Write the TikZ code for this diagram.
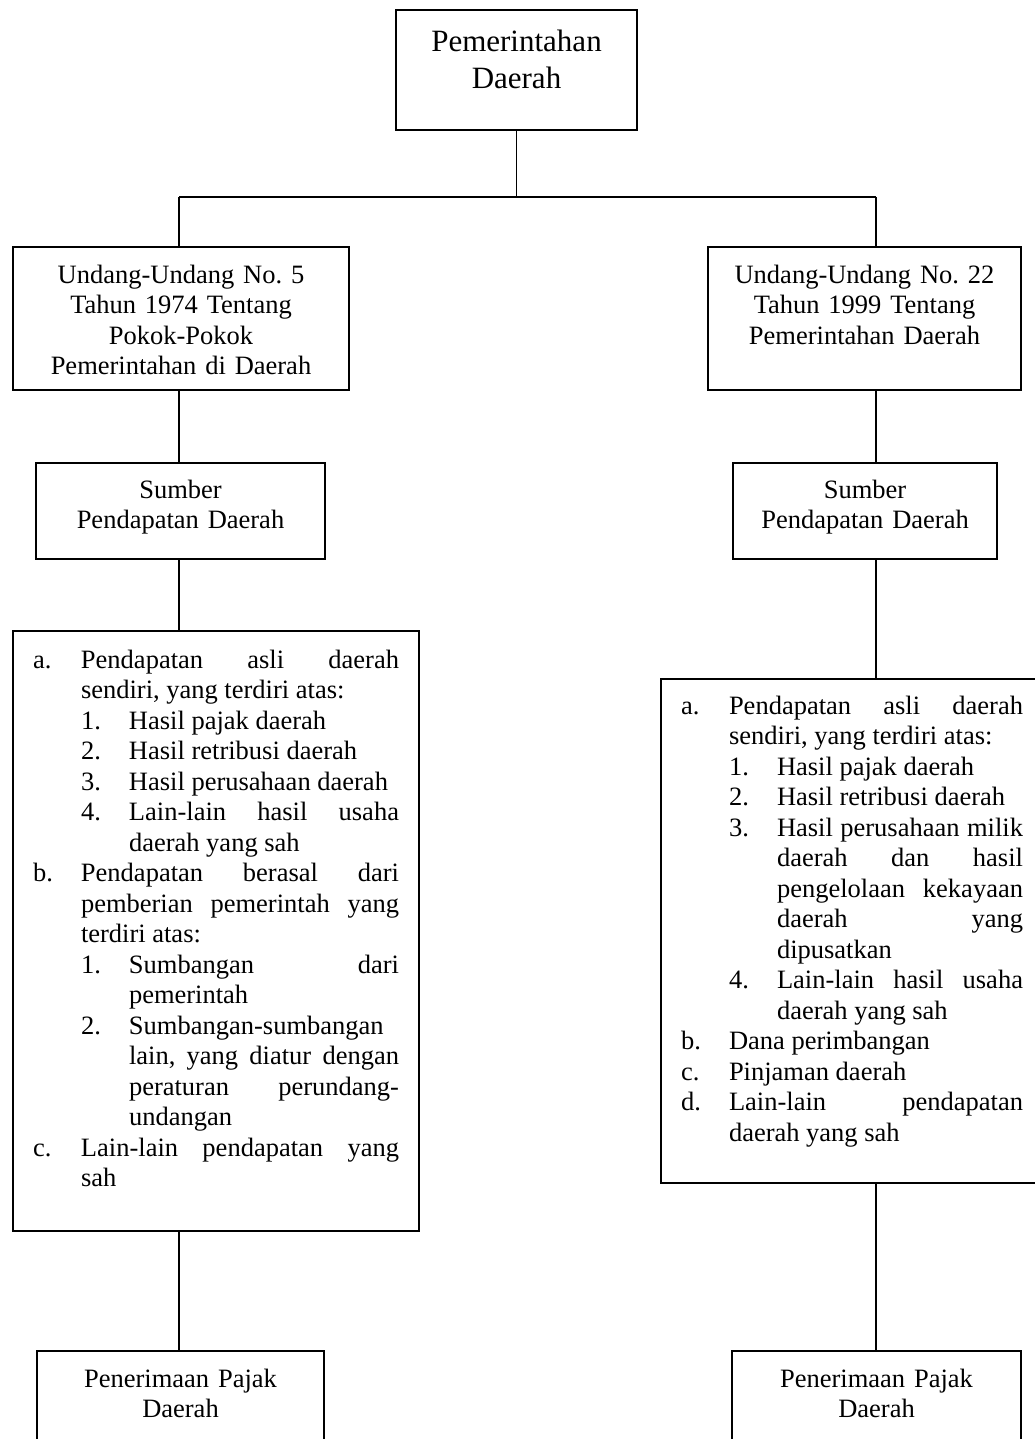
\documentclass[tikz,border=0pt]{standalone}
\usepackage{fontspec}
\setmainfont{Liberation Serif}
\frenchspacing
\tolerance=10000
\hyphenpenalty=10000
\exhyphenpenalty=10000
\newcommand{\itema}[2]{\leftskip=48pt\noindent\llap{\makebox[48pt][l]{#1}}#2\par}
\newcommand{\itemb}[2]{\leftskip=96pt\noindent\llap{\makebox[48pt][l]{#1}}#2\par}
\begin{document}
\begin{tikzpicture}[x=1pt,y=-1pt,
		box/.style={draw,line width=2pt,anchor=north west,inner xsep=0pt,inner ysep=0pt,font=\fontsize{26.5}{30.5}\selectfont},
		centred/.style={box,align=center},
		listbox/.style={box,align=justify,inner xsep=20pt},
		link/.style={line width=1.5pt}]
	\useasboundingbox (0,0) rectangle (1035,1439);
	\clip (0,0) rectangle (1035,1439);
		\node[centred,text width=241pt,text height=42pt,text depth=78pt,font=\fontsize{31}{37}\selectfont] (pemda) at (395,9) {Pemerintahan\\Daerah};
		\node[centred,text width=336pt,text height=36pt,text depth=107pt] (uu74) at (12,246) {Undang-Undang No. 5\\Tahun 1974 Tentang\\Pokok-Pokok\\Pemerintahan di Daerah};
		\node[centred,text width=313pt,text height=36pt,text depth=107pt] (uu99) at (707,246) {Undang-Undang No. 22\\Tahun 1999 Tentang\\Pemerintahan Daerah};
		\node[centred,text width=289pt,text height=35pt,text depth=61pt] (sumber74) at (35,462) {Sumber\\Pendapatan Daerah};
		\node[centred,text width=264pt,text height=35pt,text depth=61pt] (sumber99) at (732,462) {Sumber\\Pendapatan Daerah};
		\node[listbox,text width=366pt,text height=37pt,text depth=563pt] (rinci74) at (12,630) {%
			\itema{a.}{Pendapatan asli daerah\linebreak sendiri, yang terdiri atas:}
			\itemb{1.}{Hasil pajak daerah}
			\itemb{2.}{Hasil retribusi daerah}
			\itemb{3.}{Hasil perusahaan daerah}
			\itemb{4.}{Lain-lain hasil usaha\linebreak daerah yang sah}
			\itema{b.}{Pendapatan berasal dari\linebreak pemberian pemerintah yang\linebreak terdiri atas:}
			\itemb{1.}{Sumbangan dari\linebreak pemerintah}
			\itemb{2.}{Sumbangan-sumbangan\newline lain, yang diatur dengan\linebreak peraturan perundang-\linebreak undangan}
			\itema{c.}{Lain-lain pendapatan yang\linebreak sah}};
		\node[listbox,text width=342pt,text height=35pt,text depth=469pt] (rinci99) at (660,678) {%
			\itema{a.}{Pendapatan asli daerah\linebreak sendiri, yang terdiri atas:}
			\itemb{1.}{Hasil pajak daerah}
			\itemb{2.}{Hasil retribusi daerah}
			\itemb{3.}{Hasil perusahaan milik\linebreak daerah dan hasil\linebreak pengelolaan kekayaan\linebreak daerah yang\linebreak dipusatkan}
			\itemb{4.}{Lain-lain hasil usaha\linebreak daerah yang sah}
			\itema{b.}{Dana perimbangan}
			\itema{c.}{Pinjaman daerah}
			\itema{d.}{Lain-lain pendapatan\linebreak daerah yang sah}};
		\node[centred,text width=287pt,text height=36pt,text depth=74pt] (pajak74) at (36,1350) {Penerimaan Pajak\\Daerah};
		\node[centred,text width=289pt,text height=36pt,text depth=74pt] (pajak99) at (731,1350) {Penerimaan Pajak\\Daerah};
		\coordinate (jl) at (179,197);
		\coordinate (jr) at (876,197);
		\draw[link] (pemda.south)--(pemda.south |- jl) (jl)--(jr);
		\draw[link] (jl)--(jl |- uu74.north) (jl |- uu74.south)--(jl |- sumber74.north) (jl |- sumber74.south)--(jl |- rinci74.north) (jl |- rinci74.south)--(jl |- pajak74.north);
		\draw[link] (jr)--(jr |- uu99.north) (jr |- uu99.south)--(jr |- sumber99.north) (jr |- sumber99.south)--(jr |- rinci99.north) (jr |- rinci99.south)--(jr |- pajak99.north);
	\end{tikzpicture}
\end{document}
